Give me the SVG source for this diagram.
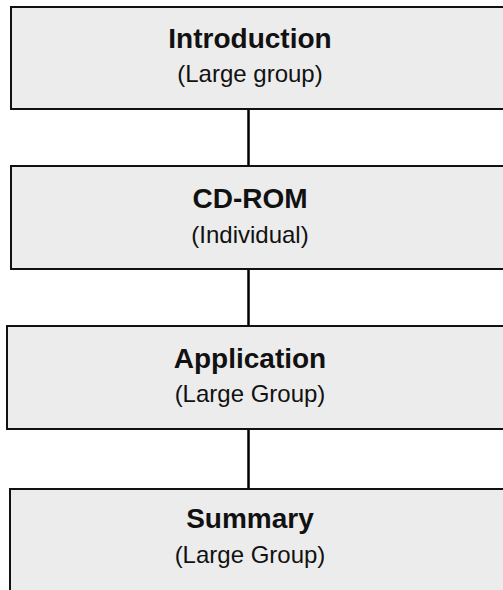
<svg xmlns="http://www.w3.org/2000/svg" width="503" height="590" viewBox="0 0 503 590">
<style>
.box{fill:#ececec;stroke:#111;stroke-width:2}
.t{font-family:"Liberation Sans",Arial,sans-serif;font-weight:bold;font-size:28px;fill:#111;text-anchor:middle}
.s{font-family:"Liberation Sans",Arial,sans-serif;font-size:24px;fill:#111;text-anchor:middle}
.c{stroke:#000;stroke-width:2.5;fill:none}
</style>
<rect width="503" height="590" fill="#fff"/>
<g id="connectors">
<line class="c" x1="248.5" y1="109" x2="248.5" y2="166"/>
<line class="c" x1="248.5" y1="269" x2="248.5" y2="326"/>
<line class="c" x1="248.5" y1="429" x2="248.5" y2="489"/>
</g>
<g id="introduction">
<rect class="box" x="11" y="7" width="520" height="102"/>
<text class="t" x="250" y="48">Introduction</text>
<text class="s" x="250" y="82">(Large group)</text>
</g>
<g id="cdrom">
<rect class="box" x="11" y="166" width="520" height="103"/>
<text class="t" x="250" y="208">CD-ROM</text>
<text class="s" x="250" y="243">(Individual)</text>
</g>
<g id="application">
<rect class="box" x="7" y="326" width="520" height="103"/>
<text class="t" x="250" y="368">Application</text>
<text class="s" x="250" y="402">(Large Group)</text>
</g>
<g id="summary">
<rect class="box" x="10" y="489" width="520" height="120"/>
<text class="t" x="250" y="528">Summary</text>
<text class="s" x="250" y="563">(Large Group)</text>
</g>
</svg>
